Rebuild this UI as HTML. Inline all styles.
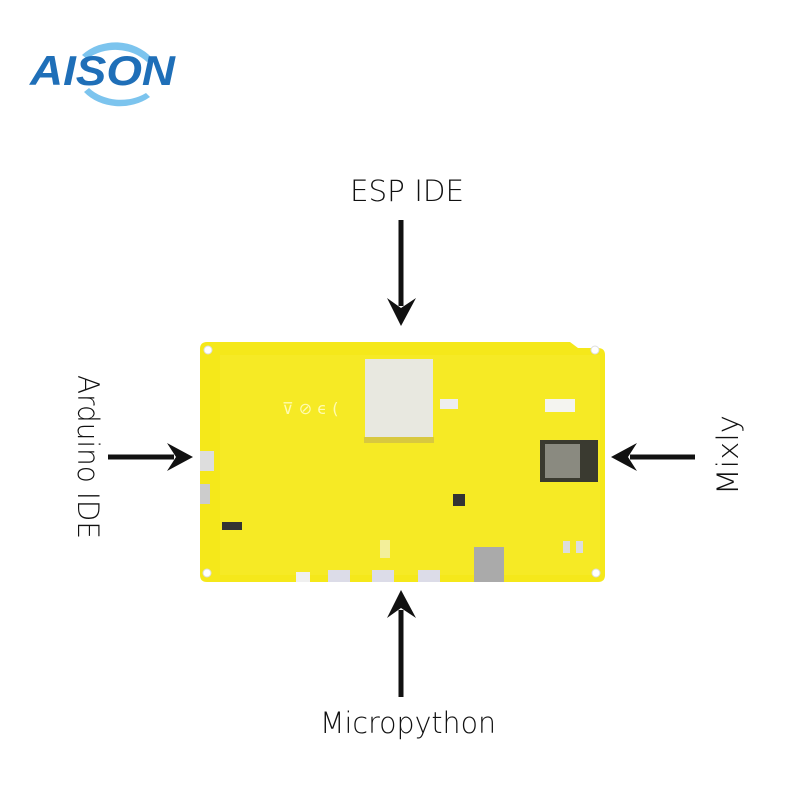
<!DOCTYPE html>
<html><head><meta charset="utf-8"><style>
html,body{margin:0;padding:0;background:#fff;width:800px;height:800px;overflow:hidden}
</style></head><body>
<svg width="800" height="800" viewBox="0 0 800 800" xmlns="http://www.w3.org/2000/svg" font-family="'DejaVu Sans','Liberation Sans',sans-serif">
<!-- logo -->
<path d="M82 55 A46 40 0 0 1 152 58 L147 62 A42 35 0 0 0 87 59 Z" fill="#7cc4ee"/>
<path d="M84 92 A46 38 0 0 0 150 97 L146 93 A42 34 0 0 1 89 88 Z" fill="#7cc4ee"/>
<text x="30" y="85" font-family="'Liberation Sans',sans-serif" font-weight="bold" font-style="italic" font-size="42" fill="#1f6fb8" textLength="145" lengthAdjust="spacingAndGlyphs">AISON</text>

<!-- board -->
<path d="M205 342 L570 342 L578 348 L598 348 Q605 348 605 355 L605 575 Q605 582 598 582 L207 582 Q200 582 200 575 L200 349 Q200 342 207 342 Z" fill="#f5e81a"/>
<rect x="220" y="355" width="380" height="220" fill="#f7ec30" opacity="0.5"/>
<circle cx="208" cy="350" r="4" fill="#fff" stroke="#ddd"/>
<circle cx="595" cy="350" r="4" fill="#fff" stroke="#ddd"/>
<circle cx="207" cy="573" r="4" fill="#fff" stroke="#ddd"/>
<circle cx="596" cy="573" r="4" fill="#fff" stroke="#ddd"/>
<rect x="365" y="359" width="68" height="78" fill="#e8e8e0"/>
<rect x="364" y="437" width="70" height="6" fill="#d8c840"/>
<rect x="540" y="440" width="58" height="42" fill="#3a3a30"/>
<rect x="545" y="444" width="35" height="34" fill="#8a8a80"/>
<rect x="200" y="451" width="14" height="20" fill="#ddd"/>
<rect x="200" y="484" width="10" height="20" fill="#ccc"/>
<rect x="222" y="522" width="20" height="8" fill="#333"/>
<rect x="453" y="494" width="12" height="12" fill="#333"/>
<rect x="474" y="547" width="30" height="35" fill="#aaa"/>
<rect x="545" y="399" width="30" height="13" fill="#f4f4f0"/>
<rect x="440" y="399" width="18" height="10" fill="#eee"/>
<rect x="328" y="570" width="22" height="12" fill="#dcdce8"/>
<rect x="372" y="570" width="22" height="12" fill="#dcdce8"/>
<rect x="418" y="570" width="22" height="12" fill="#dcdce8"/>
<rect x="296" y="572" width="14" height="10" fill="#f0f0f0"/>
<rect x="380" y="540" width="10" height="18" fill="#f3ef9a"/>
<rect x="563" y="541" width="7" height="12" fill="#ddd"/>
<rect x="576" y="541" width="7" height="12" fill="#ddd"/>
<text x="282" y="414" font-size="16" fill="#fffbb0">⊽ ⊘ ϵ (</text>

<!-- arrows -->
<g fill="#111" stroke="#111">
<line x1="401" y1="220" x2="401" y2="306" stroke-width="5"/>
<path d="M387 298 L401 326 L416 298 L401 308 Z" stroke="none"/>
<line x1="401" y1="697" x2="401" y2="610" stroke-width="5"/>
<path d="M387 618 L401 590 L416 618 L401 608 Z" stroke="none"/>
<line x1="108" y1="457" x2="174" y2="457" stroke-width="5"/>
<path d="M167 443 L193 457 L167 471 L176 457 Z" stroke="none"/>
<line x1="695" y1="457" x2="630" y2="457" stroke-width="5"/>
<path d="M637 443 L611 457 L637 471 L628 457 Z" stroke="none"/>
</g>

<!-- labels -->
<g font-size="29" fill="#111" font-weight="300">
<text x="407" y="201" text-anchor="middle" textLength="114" lengthAdjust="spacingAndGlyphs">ESP IDE</text>
<text x="408" y="733" text-anchor="middle" textLength="176" lengthAdjust="spacingAndGlyphs">Micropython</text>
<text transform="translate(78,457) rotate(90)" text-anchor="middle" textLength="164" lengthAdjust="spacingAndGlyphs">Arduino IDE</text>
<text transform="translate(738,455) rotate(-90)" text-anchor="middle" textLength="80" lengthAdjust="spacingAndGlyphs">Mixly</text>
</g>
</svg>
</body></html>
